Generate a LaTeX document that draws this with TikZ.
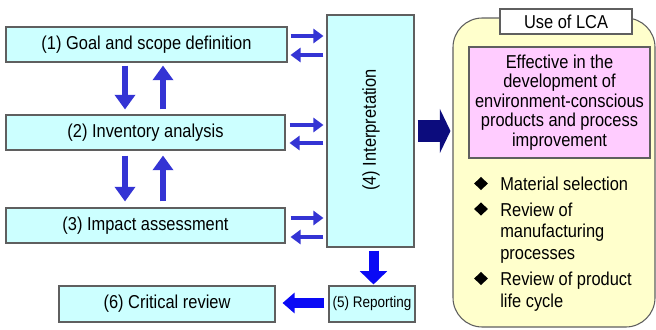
\documentclass[tikz,border=0pt]{standalone}
\usepackage{fontspec}
\setmainfont[FakeStretch=0.88]{Liberation Sans}
\usetikzlibrary{arrows.meta,shapes.geometric,calc}
\definecolor{lcyan}{RGB}{204,255,255}
\definecolor{boxgray}{RGB}{95,95,95}
\definecolor{arrblue}{RGB}{52,52,212}
\definecolor{pureblue}{RGB}{10,10,245}
\definecolor{navy}{RGB}{12,12,125}
\definecolor{lyellow}{RGB}{255,255,204}
\definecolor{lpink}{RGB}{255,204,255}
\tikzset{
  txt/.style={font=\fontsize{14}{14.6}\selectfont},
  stagebox/.style={draw=boxgray, fill=lcyan, line width=0.8pt, inner sep=0pt, txt},
  varr/.style={draw=arrblue, line width=4pt, -{Triangle[width=15pt,length=11pt]}},
  harr/.style={draw=arrblue, line width=3.5pt, -{Triangle[width=10.5pt,length=7.5pt]}},
  bullet/.style={diamond, fill=black, inner sep=0pt, minimum width=10.5pt, minimum height=10pt},
  itemtxt/.style={anchor=base west, inner sep=0pt, txt}
}
\begin{document}
\begin{tikzpicture}[x=0.75pt,y=-0.75pt]
\useasboundingbox (0,0) rectangle (656,329);

% stage boxes
\node[stagebox, minimum width=210.75pt, minimum height=26.25pt] (b1) at (146.5,44.5) {(1) Goal and scope definition};
\node[stagebox, minimum width=209.25pt, minimum height=26.25pt] (b2) at (145.5,132.5) {(2) Inventory analysis};
\node[stagebox, minimum width=209.25pt, minimum height=26.25pt] (b3) at (145.5,225.5) {(3) Impact assessment};
\node[stagebox, minimum width=162pt, minimum height=27pt] (b6) at (167,304) {(6) Critical review};
\node[stagebox, minimum width=65.25pt, minimum height=174pt] (interp) at (370.5,131) {};
\node[txt, rotate=90] (interplabel) at (371,130) {(4) Interpretation};
\node[stagebox, minimum width=64.5pt, minimum height=27pt, font=\fontsize{11.5}{13}\selectfont] (rep) at (372,304) {(5) Reporting};

% use of LCA
\node[draw=boxgray, fill=lyellow, line width=0.8pt, rounded corners=22pt, minimum width=151.5pt, minimum height=231.75pt] (use) at (554,172.5) {};
\node[draw=boxgray, fill=white, line width=0.8pt, minimum width=99pt, minimum height=18.75pt, inner sep=0pt, txt] (uselabel) at (566,21.5) {Use of LCA};
\node[draw=boxgray, fill=lpink, line width=0.8pt, minimum width=135.75pt, minimum height=83.25pt, inner sep=0pt, align=center, txt] (eff) at (559.5,102.5) {Effective in the\\development of\\environment-conscious\\products and process\\improvement};

\node[bullet] (d1) at (481,183.5) {};
\node[bullet] (d2) at (481,209) {};
\node[bullet] (d3) at (481,278.5) {};
\node[itemtxt] (t1) at (500,190.5) {Material selection};
\node[itemtxt] (t2a) at (500,216) {Review of};
\node[itemtxt] (t2b) at (500,237.5) {manufacturing};
\node[itemtxt] (t2c) at (500,259) {processes};
\node[itemtxt] (t3a) at (500,285.5) {Review of product};
\node[itemtxt] (t3b) at (500,307) {life cycle};

% vertical arrows
\draw[varr] ($(b1.south)+(-21.5,3)$) -- ($(b2.north)+(-20.5,-5)$);
\draw[varr] ($(b2.north)+(17.5,-5)$) -- ($(b1.south)+(16.5,3)$);
\draw[varr] ($(b2.south)+(-20.5,5)$) -- ($(b3.north)+(-20.5,-6)$);
\draw[varr] ($(b3.north)+(17.5,-6)$) -- ($(b2.south)+(17.5,5)$);

% side arrows
\draw[harr] ($(b1.east)+(3,-8.5)$) -- ($(b1.east -| interp.west)+(-3,-8.5)$);
\draw[harr] ($(b1.east -| interp.west)+(-3,10.5)$) -- ($(b1.east)+(3,10.5)$);
\draw[harr] ($(b2.east)+(4,-7.5)$) -- ($(b2.east -| interp.west)+(-3,-7.5)$);
\draw[harr] ($(b2.east -| interp.west)+(-3,10.5)$) -- ($(b2.east)+(4,10.5)$);
\draw[harr] ($(b3.east)+(5,-7.5)$) -- ($(b3.east -| interp.west)+(-3,-7.5)$);
\draw[harr] ($(b3.east -| interp.west)+(-3,11.5)$) -- ($(b3.east)+(5,11.5)$);

% big arrow to use of LCA
\draw[draw=navy, line width=16.5pt, -{Triangle[width=33pt,length=8pt]}] ($(interp.east)+(3,0)$) -- ($(interp.east -| use.west)+(-2,0)$);

% reporting arrows
\draw[draw=pureblue, line width=7.5pt, -{Triangle[width=20pt,length=10pt]}] ($(interp.south)+(3,3)$) -- ($(rep.north)+(1.5,-1)$);
\draw[draw=pureblue, line width=7.5pt, -{Triangle[width=15pt,length=9pt]}] ($(rep.west)+(-4,-1)$) -- ($(b6.east)+(7,-1)$);
\end{tikzpicture}
\end{document}
